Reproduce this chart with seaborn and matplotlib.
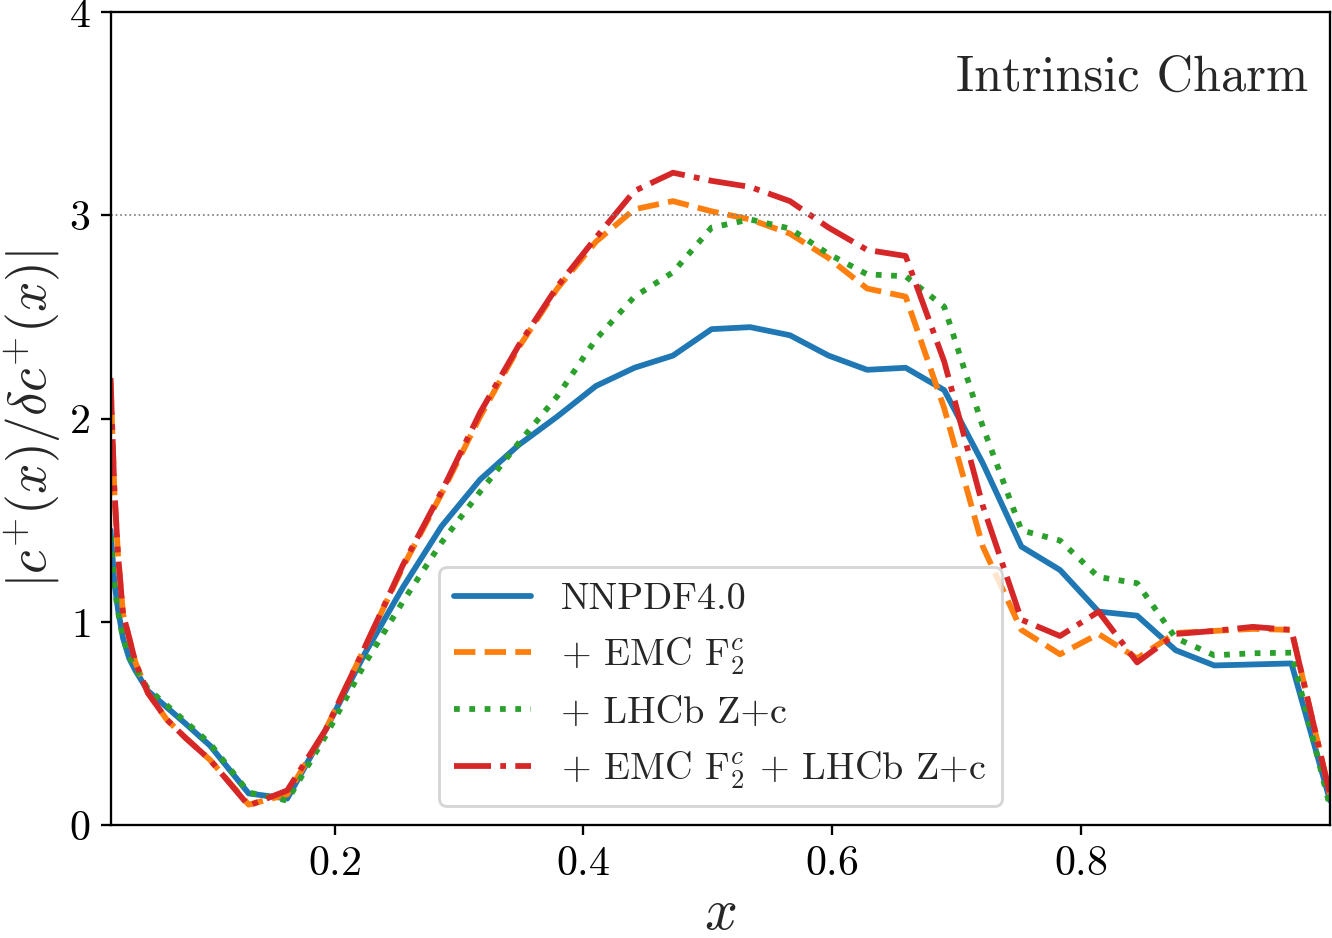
#%%
import numpy as np
import pandas as pd
import matplotlib
matplotlib.use("Agg")
import matplotlib.pyplot as plt
import seaborn as sns

#%%
# x grid (log-ish part below 0.1, then the linear grid up to 1)
x_low = [0.02, 0.023, 0.026, 0.03, 0.035, 0.04, 0.05, 0.065, 0.08, 0.1]
x_lin = [0.131, 0.162, 0.193, 0.224, 0.255, 0.286, 0.317, 0.348, 0.379, 0.410,
         0.441, 0.472, 0.503, 0.534, 0.566, 0.597, 0.628, 0.659, 0.690, 0.721,
         0.752, 0.783, 0.814, 0.845, 0.876, 0.907, 0.938, 0.969, 1.0]
xgrid = x_low + x_lin

# |c+(x) / delta c+(x)|
nnpdf40 = [1.45, 1.20, 1.06, 0.92, 0.82, 0.76, 0.66, 0.58, 0.50, 0.39,
           0.155, 0.13, 0.47, 0.84, 1.17, 1.47, 1.70, 1.87, 2.01, 2.16,
           2.25, 2.31, 2.44, 2.45, 2.41, 2.31, 2.24, 2.25, 2.14, 1.78,
           1.37, 1.255, 1.05, 1.03, 0.86, 0.785, 0.79, 0.795, 0.12]
emc = [2.18, 1.65, 1.33, 1.04, 0.92, 0.80, 0.65, 0.52, 0.43, 0.32,
       0.10, 0.15, 0.47, 0.87, 1.27, 1.63, 2.01, 2.35, 2.64, 2.87,
       3.03, 3.07, 3.02, 2.98, 2.91, 2.79, 2.64, 2.60, 2.05, 1.37,
       0.96, 0.84, 0.94, 0.82, 0.945, 0.955, 0.965, 0.96, 0.15]
lhcb = [1.42, 1.18, 1.05, 0.92, 0.83, 0.77, 0.67, 0.59, 0.51, 0.40,
        0.16, 0.12, 0.44, 0.79, 1.10, 1.39, 1.64, 1.88, 2.11, 2.39,
        2.60, 2.72, 2.94, 2.98, 2.935, 2.81, 2.71, 2.70, 2.55, 1.96,
        1.45, 1.40, 1.22, 1.19, 0.92, 0.835, 0.845, 0.848, 0.09]
emc_lhcb = [2.20, 1.66, 1.33, 1.04, 0.92, 0.80, 0.65, 0.52, 0.43, 0.32,
            0.095, 0.17, 0.47, 0.87, 1.28, 1.64, 2.03, 2.36, 2.65, 2.89,
            3.12, 3.21, 3.17, 3.14, 3.07, 2.94, 2.83, 2.80, 2.28, 1.57,
            1.01, 0.93, 1.05, 0.80, 0.94, 0.955, 0.975, 0.96, 0.15]

labels = ["NNPDF4.0",
          r"+ EMC F$_2^c$",
          r"+ LHCb Z+c",
          r"+ EMC F$_2^c$ + LHCb Z+c"]
series = [nnpdf40, emc, lhcb, emc_lhcb]

#%%
df = pd.concat([pd.DataFrame({"x": xgrid, "ratio": s, "fit": lab})
                for s, lab in zip(series, labels)], ignore_index=True)

#%%
sns.set_style("ticks")
plt.rcParams["font.family"] = "serif"
plt.rcParams["font.serif"] = ["cmr10"]
plt.rcParams["mathtext.fontset"] = "cm"
plt.rcParams["axes.formatter.use_mathtext"] = True
plt.rcParams["axes.edgecolor"] = "black"
plt.rcParams["xtick.color"] = "black"
plt.rcParams["ytick.color"] = "black"

palette = dict(zip(labels, ["#1f77b4", "#ff7f0e", "#2ca02c", "#d62728"]))
dashes = dict(zip(labels, ["", (3.7, 1.6), (1, 1.65), (6.4, 1.6, 1, 1.6)]))

fig, ax = plt.subplots(figsize=(6.4, 4.507), dpi=208.125)
fig.subplots_adjust(left=0.083, right=0.9985, bottom=0.1205, top=0.987)

sns.lineplot(data=df, x="x", y="ratio", hue="fit", style="fit",
             palette=palette, dashes=dashes, estimator=None, sort=False,
             linewidth=2, ax=ax)

ax.axhline(3, color="gray", ls=":", lw=0.6)

ax.set_xlim(0.02, 1.0)
ax.set_ylim(0, 4)
ax.set_xticks([0.2, 0.4, 0.6, 0.8])
ax.set_yticks([0, 1, 2, 3, 4])
ax.tick_params(labelsize=14.5, width=0.8, length=3.5)
for sp in ax.spines.values():
    sp.set_visible(True)
    sp.set_linewidth(0.8)

ax.set_xlabel(r"$x$", fontsize=20, labelpad=2)
ax.set_ylabel(r"$|c^{+}(x)/\delta c^{+}(x)|$", fontsize=18.5, labelpad=1.5)

ax.text(0.982, 0.947, "Intrinsic Charm", transform=ax.transAxes,
        ha="right", va="top", fontsize=17.5)

handles, labs = ax.get_legend_handles_labels()
ax.legend(handles, labs, loc="lower center", fontsize=13.2, title=None)

plt.savefig("out.png", dpi=208.125)
